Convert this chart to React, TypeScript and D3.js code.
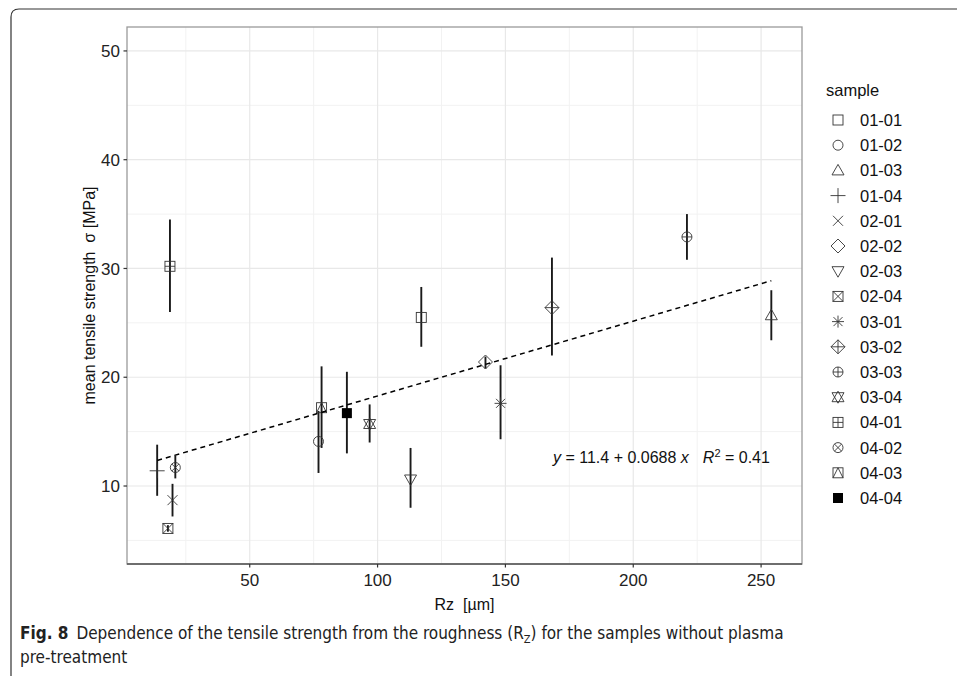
import React from 'react';
import * as d3 from 'd3';

// samples, roughness Rz [µm], mean tensile strength and error bar ends [MPa]
const samples = ['01-01', '01-02', '01-03', '01-04', '02-01', '02-02', '02-03', '02-04',
  '03-01', '03-02', '03-03', '03-04', '04-01', '04-02', '04-03', '04-04'];
const rz = [117.1, 76.9, 254, 13.8, 19.8, 142.2, 112.9, 18.0, 148.1, 168.2, 221, 96.9, 18.8, 20.9, 78.1, 88.0];
const meanStrength = [25.5, 14.1, 25.7, 11.4, 8.7, 21.4, 10.6, 6.1, 17.6, 26.4, 32.9, 15.7, 30.2, 11.7, 17.2, 16.7];
const errLow = [22.8, 11.2, 23.4, 9.1, 7.2, 20.8, 8.0, 5.8, 14.3, 22.0, 30.8, 14.0, 26.0, 10.7, 13.5, 13.0];
const errHigh = [28.3, 16.9, 28.0, 13.8, 10.2, 21.9, 13.5, 6.4, 21.1, 31.0, 35.0, 17.5, 34.5, 12.8, 21.0, 20.5];

const xTicks = [50, 100, 150, 200, 250];
const xMinor = [25, 75, 125, 175, 225];
const yTicks = [10, 20, 30, 40, 50];
const yMinor = [5, 15, 25, 35, 45];

const intercept = 11.4;
const slope = 0.0688;

const W = 957, H = 676;
const panel = { left: 127, top: 27, right: 802, bottom: 564 };
const FONT = '"Liberation Sans", Arial, sans-serif';
const CAPTION_FONT = '"Liberation Sans Narrow", "DejaVu Sans Condensed", "Open Sans", sans-serif';

// ggplot-like shapes 0..15, drawn around (0,0)
function Shape({ k, x, y }: { k: number; x: number; y: number }) {
  const st = { fill: 'none', stroke: '#333', strokeWidth: 0.9 };
  const s = 5;
  const sq = <rect x={-s} y={-s} width={2 * s} height={2 * s} {...st} />;
  const circ = <circle r={5} {...st} />;
  const tri = `M0,${-s - 1} L${s + 1},${s - 0.5} L${-s - 1},${s - 0.5} Z`;
  const triDown = `M0,${s + 1} L${s + 1},${-s + 0.5} L${-s - 1},${-s + 0.5} Z`;
  const plus = (a: number) => `M${-a},0 H${a} M0,${-a} V${a}`;
  const cross = (a: number) => `M${-a},${-a} L${a},${a} M${-a},${a} L${a},${-a}`;
  const diamond = (a: number) => `M0,${-a} L${a},0 L0,${a} L${-a},0 Z`;
  let el: React.ReactNode = null;
  switch (k) {
    case 0: el = sq; break;
    case 1: el = circ; break;
    case 2: el = <path d={tri} {...st} />; break;
    case 3: el = <path d={plus(7.5)} {...st} />; break;
    case 4: el = <path d={cross(5)} {...st} />; break;
    case 5: el = <path d={diamond(7)} {...st} />; break;
    case 6: el = <path d={triDown} {...st} />; break;
    case 7: el = <g>{sq}<path d={cross(s)} {...st} /></g>; break;
    case 8: el = <path d={plus(6) + cross(4.5)} {...st} />; break;
    case 9: el = <path d={diamond(7) + plus(7)} {...st} />; break;
    case 10: el = <g>{circ}<path d={plus(5)} {...st} /></g>; break;
    case 11: el = <path d={tri + triDown} {...st} />; break;
    case 12: el = <g>{sq}<path d={plus(s)} {...st} /></g>; break;
    case 13: el = <g>{circ}<path d={cross(3.6)} {...st} /></g>; break;
    case 14: el = <g>{sq}<path d={`M${-s},${s} L0,${-s} L${s},${s}`} {...st} /></g>; break;
    case 15: el = <rect x={-s} y={-s} width={2 * s} height={2 * s} fill="#000" />; break;
  }
  return <g transform={`translate(${x},${y})`}>{el}</g>;
}

export default function App() {
  const x = d3.scaleLinear().domain([2, 266]).range([panel.left, panel.right]);
  const y = d3.scaleLinear().domain([2.83, 52.2]).range([panel.bottom, panel.top]);

  const xFit = d3.extent(rz) as [number, number];
  const fitLine = d3.line<number>().x(d => x(d)).y(d => y(intercept + slope * d))(xFit) || '';

  return (
    <svg width={W} height={H} style={{ display: 'block', position: 'absolute', left: 0, top: 0 }}>
      <rect width={W} height={H} fill="#fff" />
      {/* figure frame */}
      <path d={`M11,${H} V17 Q11,9 19,9 H${W}`} fill="none" stroke="#333" strokeWidth={1.2} />

      {/* grid */}
      <g>
        {xMinor.map(v => <line key={'xm' + v} x1={x(v)} x2={x(v)} y1={panel.top} y2={panel.bottom} stroke="#f2f2f2" strokeWidth={1} />)}
        {yMinor.map(v => <line key={'ym' + v} y1={y(v)} y2={y(v)} x1={panel.left} x2={panel.right} stroke="#f2f2f2" strokeWidth={1} />)}
        {xTicks.map(v => <line key={'x' + v} x1={x(v)} x2={x(v)} y1={panel.top} y2={panel.bottom} stroke="#e8e8e8" strokeWidth={1.2} />)}
        {yTicks.map(v => <line key={'y' + v} y1={y(v)} y2={y(v)} x1={panel.left} x2={panel.right} stroke="#e8e8e8" strokeWidth={1.2} />)}
      </g>

      {/* error bars */}
      {samples.map((s, i) => (
        <line key={'e' + s} x1={x(rz[i])} x2={x(rz[i])} y1={y(errLow[i])} y2={y(errHigh[i])} stroke="#1a1a1a" strokeWidth={1.9} />
      ))}
      {/* points */}
      {samples.map((s, i) => <Shape key={'p' + s} k={i} x={x(rz[i])} y={y(meanStrength[i])} />)}

      {/* regression line */}
      <path d={fitLine} fill="none" stroke="#000" strokeWidth={1.5} strokeDasharray="5,4" />

      <text x={553} y={463} fontFamily={FONT} fontSize={16} fill="#111">
        <tspan fontStyle="italic">y</tspan>
        <tspan> = 11.4 + 0.0688 </tspan>
        <tspan fontStyle="italic">x</tspan>
        <tspan dx={14} fontStyle="italic">R</tspan>
        <tspan fontSize={11} dy={-6}>2</tspan>
        <tspan dy={6}> = 0.41</tspan>
      </text>

      {/* panel border */}
      <rect x={panel.left} y={panel.top} width={panel.right - panel.left} height={panel.bottom - panel.top} fill="none" stroke="#9a9a9a" strokeWidth={1.3} />
      <line x1={panel.left} x2={panel.right} y1={panel.bottom} y2={panel.bottom} stroke="#555" strokeWidth={1.3} />

      {/* axes */}
      {yTicks.map(v => (
        <g key={'yt' + v}>
          <line x1={panel.left - 3.5} x2={panel.left} y1={y(v)} y2={y(v)} stroke="#333" strokeWidth={1.2} />
          <text x={panel.left - 7} y={y(v)} dy="0.36em" textAnchor="end" fontFamily={FONT} fontSize={17} fill="#222">{v}</text>
        </g>
      ))}
      {xTicks.map(v => (
        <g key={'xt' + v}>
          <line y1={panel.bottom} y2={panel.bottom + 3.5} x1={x(v)} x2={x(v)} stroke="#333" strokeWidth={1.2} />
          <text x={x(v)} y={panel.bottom + 22} textAnchor="middle" fontFamily={FONT} fontSize={17} fill="#222">{v}</text>
        </g>
      ))}
      <text x={(panel.left + panel.right) / 2} y={610} textAnchor="middle" fontFamily={FONT} fontSize={16} fill="#111">Rz{'\u00a0\u00a0'}[µm]</text>
      <text transform={`translate(95,${(panel.top + panel.bottom) / 2}) rotate(-90)`} textAnchor="middle" fontFamily={FONT} fontSize={16} fill="#111">
        mean tensile strength{'\u00a0\u00a0'}σ [MPa]
      </text>

      {/* legend */}
      <text x={826} y={96} fontFamily={FONT} fontSize={16.5} fill="#111">sample</text>
      {samples.map((s, i) => {
        const ly = 120 + i * 25.2;
        return (
          <g key={'l' + s}>
            <Shape k={i} x={838} y={ly} />
            <text x={860} y={ly} dy="0.36em" fontFamily={FONT} fontSize={16.5} fill="#111">{s}</text>
          </g>
        );
      })}

      {/* caption */}
      <text x={20} y={639} fontFamily={CAPTION_FONT} fontSize={17} fill="#222">
        <tspan fontWeight="bold">Fig. 8</tspan>
        <tspan dx={8}>Dependence of the tensile strength from the roughness (R</tspan>
        <tspan fontSize={11} dy={4}>Z</tspan>
        <tspan dy={-4}>) for the samples without plasma</tspan>
      </text>
      <text x={20} y={663} fontFamily={CAPTION_FONT} fontSize={17} fill="#222">pre-treatment</text>
    </svg>
  );
}
